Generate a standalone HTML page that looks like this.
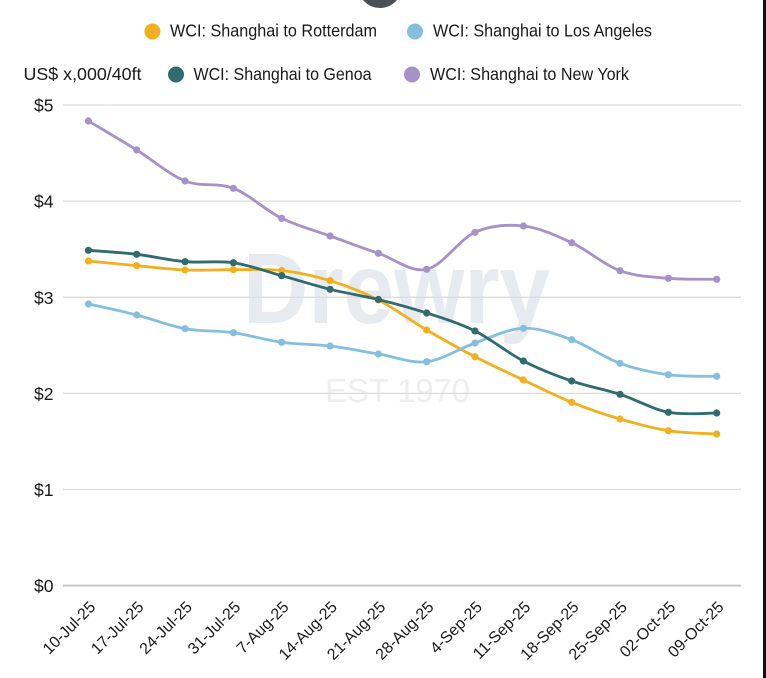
<!DOCTYPE html>
<html>
<head>
<meta charset="utf-8">
<style>
  html,body{margin:0;padding:0;background:#fff;}
  body{width:766px;height:678px;overflow:hidden;}
  svg{display:block;}
  text{font-family:"Liberation Sans", Arial, sans-serif;fill:#1a1a1a;}
</style>
</head>
<body>
<svg width="766" height="678" viewBox="0 0 766 678" xmlns="http://www.w3.org/2000/svg">
  <rect x="0" y="0" width="766" height="678" fill="#ffffff"/>
  <!-- top dark circle (cropped) -->
  <circle cx="380" cy="-14" r="22" fill="#4b5056"/>
  <!-- right edge dark bar -->
  <rect x="763" y="0" width="3" height="678" fill="#111"/>

  <!-- watermark -->
  <text x="243" y="323" font-size="100" font-weight="bold" textLength="307" lengthAdjust="spacingAndGlyphs" style="fill:#e7ebef">Drewry</text>
  <text x="325" y="402" font-size="33" textLength="145" lengthAdjust="spacing" style="fill:#eeeeee">EST 1970</text>

  <!-- legend -->
  <circle cx="152.4" cy="31.5" r="8" fill="#f2b01e"/>
  <text x="170" y="36.7" font-size="17.5" textLength="207" lengthAdjust="spacingAndGlyphs">WCI: Shanghai to Rotterdam</text>
  <circle cx="415" cy="31.5" r="8" fill="#85bfe0"/>
  <text x="433" y="36.7" font-size="17.5" textLength="219" lengthAdjust="spacingAndGlyphs">WCI: Shanghai to Los Angeles</text>

  <text x="23.5" y="80" font-size="17.5" textLength="118" lengthAdjust="spacingAndGlyphs">US$ x,000/40ft</text>
  <circle cx="176" cy="74.5" r="8" fill="#2f6b6f"/>
  <text x="193.5" y="80" font-size="17.5" textLength="178" lengthAdjust="spacingAndGlyphs">WCI: Shanghai to Genoa</text>
  <circle cx="412" cy="74.5" r="8" fill="#a791c9"/>
  <text x="430" y="80" font-size="17.5" textLength="199" lengthAdjust="spacingAndGlyphs">WCI: Shanghai to New York</text>

  <!-- gridlines -->
  <g stroke="#dcdcdc" stroke-width="1.3">
    <line x1="63" y1="105" x2="741" y2="105"/>
    <line x1="63" y1="201.1" x2="741" y2="201.1"/>
    <line x1="63" y1="297.3" x2="741" y2="297.3"/>
    <line x1="63" y1="393.4" x2="741" y2="393.4"/>
    <line x1="63" y1="489.5" x2="741" y2="489.5"/>
  </g>
  <line x1="63" y1="585.6" x2="741" y2="585.6" stroke="#c6c6c6" stroke-width="2"/>

  <!-- y labels -->
  <g font-size="17.5" text-anchor="end">
    <text x="53.5" y="111.5">$5</text>
    <text x="53.5" y="207.6">$4</text>
    <text x="53.5" y="303.8">$3</text>
    <text x="53.5" y="399.9">$2</text>
    <text x="53.5" y="496">$1</text>
    <text x="53.5" y="592.1">$0</text>
  </g>

  <!-- x labels -->
  <g font-size="16" text-anchor="end">
    <text x="96.4" y="608" transform="rotate(-45 96.4 608)">10-Jul-25</text>
    <text x="144.7" y="608" transform="rotate(-45 144.7 608)">17-Jul-25</text>
    <text x="193.1" y="608" transform="rotate(-45 193.1 608)">24-Jul-25</text>
    <text x="241.4" y="608" transform="rotate(-45 241.4 608)">31-Jul-25</text>
    <text x="289.7" y="608" transform="rotate(-45 289.7 608)">7-Aug-25</text>
    <text x="338.1" y="608" transform="rotate(-45 338.1 608)">14-Aug-25</text>
    <text x="386.4" y="608" transform="rotate(-45 386.4 608)">21-Aug-25</text>
    <text x="434.7" y="608" transform="rotate(-45 434.7 608)">28-Aug-25</text>
    <text x="483" y="608" transform="rotate(-45 483 608)">4-Sep-25</text>
    <text x="531.4" y="608" transform="rotate(-45 531.4 608)">11-Sep-25</text>
    <text x="579.7" y="608" transform="rotate(-45 579.7 608)">18-Sep-25</text>
    <text x="628" y="608" transform="rotate(-45 628 608)">25-Sep-25</text>
    <text x="676.4" y="608" transform="rotate(-45 676.4 608)">02-Oct-25</text>
    <text x="724.7" y="608" transform="rotate(-45 724.7 608)">09-Oct-25</text>
  </g>

  <!-- Rotterdam (orange) -->
  <g>
    <path fill="none" stroke="#f2b01e" stroke-width="2.8" stroke-linejoin="round" stroke-linecap="round"
      d="M88.4,261 C96.5,261.8 120.6,264.2 136.7,265.7 S169.0,269.3 185.1,270 S217.3,269.6 233.4,269.7 S265.6,268.7 281.7,270.5 S314.0,275.8 330.1,280.7 S362.3,291.8 378.4,300 S410.6,320.6 426.7,330 S458.9,348.4 475.0,356.7 S507.3,372.4 523.4,380 S555.6,395.8 571.7,402.3 S603.9,414.3 620.0,419 S652.3,428.2 668.4,430.7 S708.6,433.5 716.7,434"/>
    <g fill="#f2b01e">
      <circle cx="88.4" cy="261" r="3.6"/><circle cx="136.7" cy="265.7" r="3.6"/><circle cx="185.1" cy="270" r="3.6"/><circle cx="233.4" cy="269.7" r="3.6"/><circle cx="281.7" cy="270.5" r="3.6"/><circle cx="330.1" cy="280.7" r="3.6"/><circle cx="378.4" cy="300" r="3.6"/><circle cx="426.7" cy="330" r="3.6"/><circle cx="475.0" cy="356.7" r="3.6"/><circle cx="523.4" cy="380" r="3.6"/><circle cx="571.7" cy="402.3" r="3.6"/><circle cx="620.0" cy="419" r="3.6"/><circle cx="668.4" cy="430.7" r="3.6"/><circle cx="716.7" cy="434" r="3.6"/>
    </g>
  </g>

  <!-- Los Angeles (light blue) -->
  <g>
    <path fill="none" stroke="#85bfe0" stroke-width="2.8" stroke-linejoin="round" stroke-linecap="round"
      d="M88.4,304 C96.5,305.8 120.6,310.9 136.7,315 S169.0,325.8 185.1,328.7 S217.3,330.4 233.4,332.7 S265.6,340.1 281.7,342.3 S314.0,344.1 330.1,346 S362.3,351.4 378.4,354 S410.6,363.5 426.7,361.7 S458.9,348.6 475.0,343 S507.3,328.9 523.4,328.3 S555.6,333.9 571.7,339.7 S603.9,357.5 620.0,363.3 S652.3,372.5 668.4,374.7 S708.6,376.0 716.7,376.3"/>
    <g fill="#85bfe0">
      <circle cx="88.4" cy="304" r="3.6"/><circle cx="136.7" cy="315" r="3.6"/><circle cx="185.1" cy="328.7" r="3.6"/><circle cx="233.4" cy="332.7" r="3.6"/><circle cx="281.7" cy="342.3" r="3.6"/><circle cx="330.1" cy="346" r="3.6"/><circle cx="378.4" cy="354" r="3.6"/><circle cx="426.7" cy="361.7" r="3.6"/><circle cx="475.0" cy="343" r="3.6"/><circle cx="523.4" cy="328.3" r="3.6"/><circle cx="571.7" cy="339.7" r="3.6"/><circle cx="620.0" cy="363.3" r="3.6"/><circle cx="668.4" cy="374.7" r="3.6"/><circle cx="716.7" cy="376.3" r="3.6"/>
    </g>
  </g>

  <!-- Genoa (teal) -->
  <g>
    <path fill="none" stroke="#2f6b6f" stroke-width="2.8" stroke-linejoin="round" stroke-linecap="round"
      d="M88.4,250.3 C96.5,251.0 120.6,252.4 136.7,254.3 S169.0,260.3 185.1,261.7 S217.3,260.4 233.4,262.7 S265.6,271.3 281.7,275.7 S314.0,285.3 330.1,289.3 S362.3,295.6 378.4,299.5 S410.6,307.8 426.7,313 S458.9,323 475.0,331 S507.3,352.7 523.4,361 S555.6,375.5 571.7,381 S603.9,389.1 620.0,394.3 S652.3,409.2 668.4,412.3 S708.6,412.9 716.7,413"/>
    <g fill="#2f6b6f">
      <circle cx="88.4" cy="250.3" r="3.6"/><circle cx="136.7" cy="254.3" r="3.6"/><circle cx="185.1" cy="261.7" r="3.6"/><circle cx="233.4" cy="262.7" r="3.6"/><circle cx="281.7" cy="275.7" r="3.6"/><circle cx="330.1" cy="289.3" r="3.6"/><circle cx="378.4" cy="299.5" r="3.6"/><circle cx="426.7" cy="313" r="3.6"/><circle cx="475.0" cy="331" r="3.6"/><circle cx="523.4" cy="361" r="3.6"/><circle cx="571.7" cy="381" r="3.6"/><circle cx="620.0" cy="394.3" r="3.6"/><circle cx="668.4" cy="412.3" r="3.6"/><circle cx="716.7" cy="413" r="3.6"/>
    </g>
  </g>

  <!-- New York (purple) -->
  <g>
    <path fill="none" stroke="#a791c9" stroke-width="2.8" stroke-linejoin="round" stroke-linecap="round"
      d="M88.4,121 C96.5,125.8 120.6,140 136.7,150 S169.0,174.6 185.1,181 S217.3,182.1 233.4,188.3 S265.6,210.4 281.7,218.3 S314.0,230.2 330.1,236 S362.3,247.8 378.4,253.3 S410.6,272.8 426.7,269.3 S458.9,239.5 475.0,232.3 S507.3,224.3 523.4,226 S555.6,235.3 571.7,242.7 S603.9,264.8 620.0,270.7 S652.3,276.9 668.4,278.3 S708.6,279.1 716.7,279.3"/>
    <g fill="#a791c9">
      <circle cx="88.4" cy="121" r="3.6"/><circle cx="136.7" cy="150" r="3.6"/><circle cx="185.1" cy="181" r="3.6"/><circle cx="233.4" cy="188.3" r="3.6"/><circle cx="281.7" cy="218.3" r="3.6"/><circle cx="330.1" cy="236" r="3.6"/><circle cx="378.4" cy="253.3" r="3.6"/><circle cx="426.7" cy="269.3" r="3.6"/><circle cx="475.0" cy="232.3" r="3.6"/><circle cx="523.4" cy="226" r="3.6"/><circle cx="571.7" cy="242.7" r="3.6"/><circle cx="620.0" cy="270.7" r="3.6"/><circle cx="668.4" cy="278.3" r="3.6"/><circle cx="716.7" cy="279.3" r="3.6"/>
    </g>
  </g>
</svg>
</body>
</html>
